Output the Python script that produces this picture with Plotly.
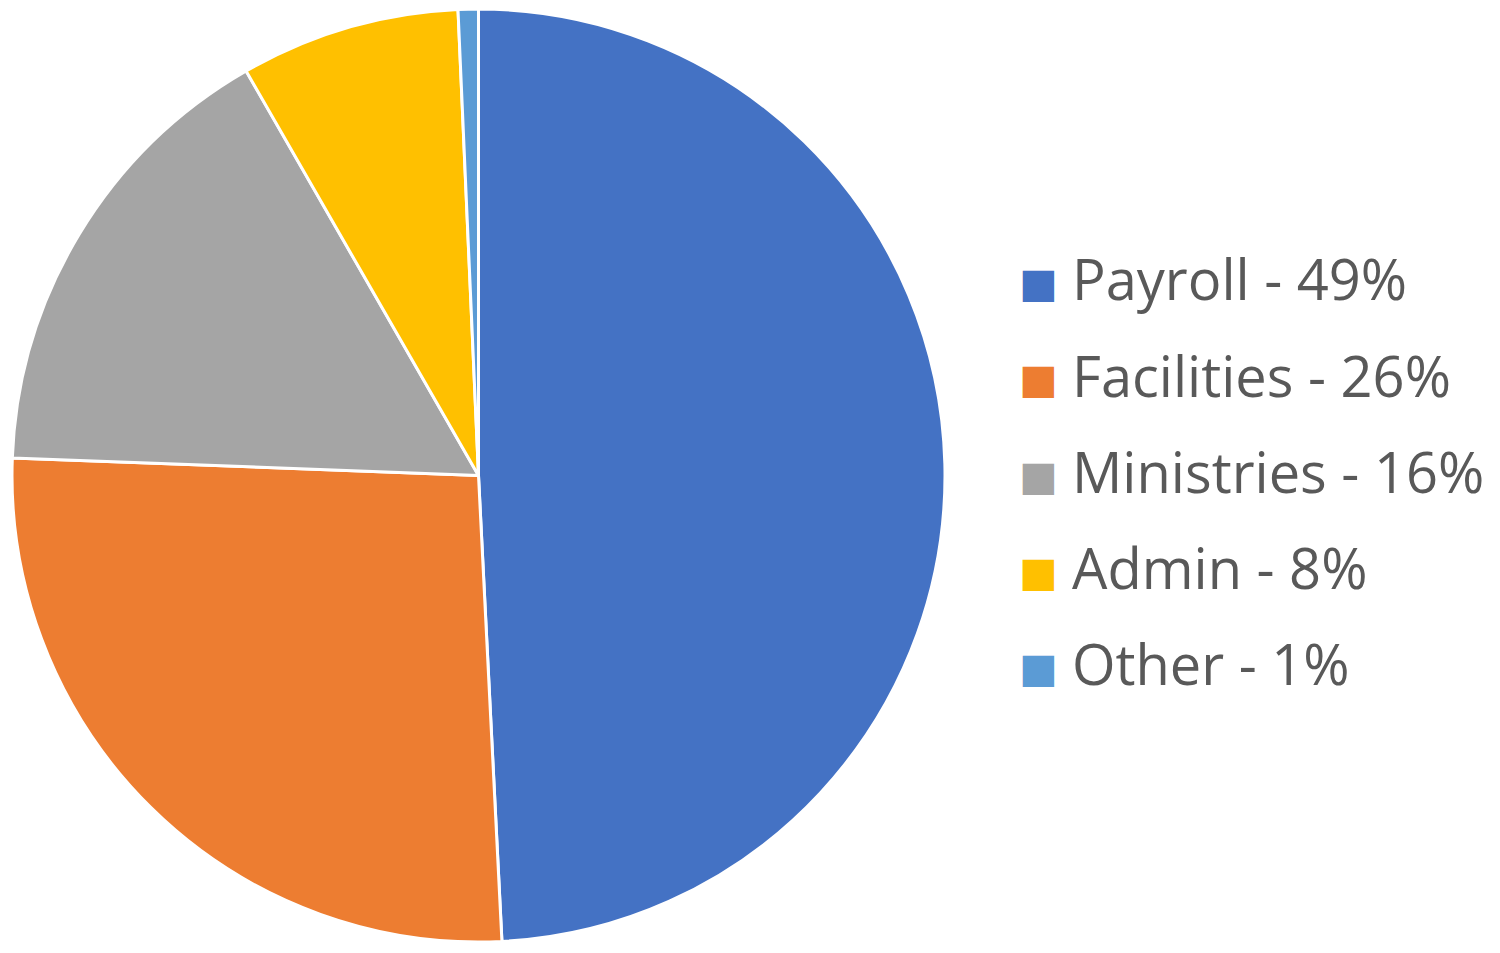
import plotly.graph_objects as go

categories = ["Payroll", "Facilities", "Ministries", "Admin", "Other"]
values = [49.2, 26.4, 16.1, 7.6, 0.7]
legend_pct = ["49%", "26%", "16%", "8%", "1%"]
colors = ["#4472C4", "#ED7D31", "#A5A5A5", "#FFC000", "#5B9BD5"]

W, H = 1500, 953

fig = go.Figure(go.Pie(
    labels=categories,
    values=values,
    sort=False,
    direction="clockwise",
    rotation=0,
    textinfo="none",
    hoverinfo="label+percent",
    marker=dict(colors=colors, line=dict(color="white", width=3)),
    domain=dict(x=[12 / W, 945 / W], y=[11 / H, 944 / H]),
    showlegend=False,
))

row0, step = 283, 96.3
for i, (cat, pct, col) in enumerate(zip(categories, legend_pct, colors)):
    yc = 1 - (row0 + i * step) / H
    fig.add_annotation(
        x=1038 / W, y=yc, xref="paper", yref="paper",
        text="■", showarrow=False, xanchor="center", yanchor="middle",
        font=dict(family="DejaVu Sans", size=41, color=col),
    )
    fig.add_annotation(
        x=1070 / W, y=yc + 0.005, xref="paper", yref="paper",
        text=f"{cat} - {pct}", showarrow=False, xanchor="left", yanchor="middle",
        font=dict(family="Open Sans", size=56, color="#595959"),
    )

fig.update_layout(
    width=W, height=H,
    margin=dict(l=0, r=0, t=0, b=0),
    paper_bgcolor="white", plot_bgcolor="white",
)

fig.write_html("out.html", config={"displayModeBar": False},
               post_script="document.body.style.margin='0';")
